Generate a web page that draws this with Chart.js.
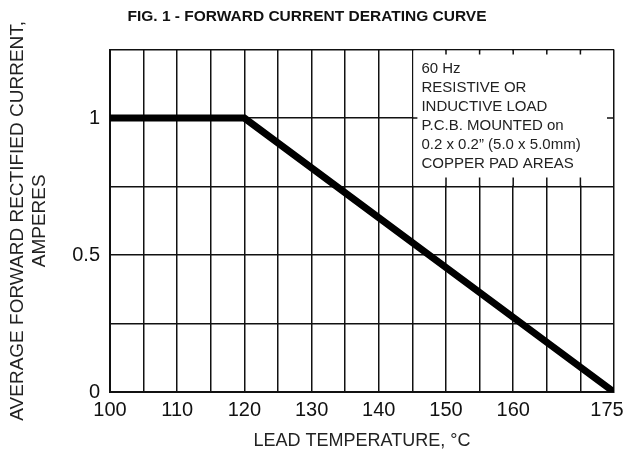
<!DOCTYPE html>
<html>
<head>
<meta charset="utf-8">
<script src="https://cdn.jsdelivr.net/npm/chart.js@4.4.0/dist/chart.umd.min.js"></script>
<style>
  html, body { margin: 0; padding: 0; background: #fff; }
  #wrap { width: 628px; height: 458px; }
</style>
</head>
<body>
<div id="wrap"><canvas id="derating"></canvas></div>
<script>
// Forward current derating curve — lead temperature vs. current

const temps    = [100, 120, 175];
const currents = [1, 1, 0];

const xTickLabels = [100, 110, 120, 130, 140, 150, 160, 175];
const yTickLabels = [0, 0.5, 1];

const noteLines = [
  "60 Hz",
  "RESISTIVE OR",
  "INDUCTIVE LOAD",
  "P.C.B. MOUNTED on",
  "0.2 x 0.2\u201D (5.0 x 5.0mm)",
  "COPPER PAD AREAS"
];

const FONT = "'Liberation Sans', Arial, Helvetica, sans-serif";
const INK  = "#111";

// White note box in the upper-right cells, with the little grid stubs left in it
const noteBox = {
  id: "noteBox",
  beforeDatasetsDraw(chart) {
    const { ctx, scales: { x, y } } = chart;
    const l = x.getPixelForValue(145), r = x.getPixelForValue(175);
    const t = y.getPixelForValue(1.25), b = y.getPixelForValue(0.75);

    ctx.save();
    ctx.fillStyle = "#fff";
    ctx.fillRect(l + 1, t + 1, r - l - 2, b - t - 2);

    ctx.strokeStyle = INK;
    ctx.lineWidth = 1.5;
    ctx.beginPath();
    for (let v = 150; v < 175; v += 5) {
      const px = x.getPixelForValue(v);
      ctx.moveTo(px, t); ctx.lineTo(px, t + 5);
      ctx.moveTo(px, b); ctx.lineTo(px, b - 9);
    }
    const py = y.getPixelForValue(1);
    ctx.moveTo(l, py); ctx.lineTo(l + 5, py);
    ctx.moveTo(r, py); ctx.lineTo(r - 7, py);
    ctx.stroke();

    ctx.fillStyle = "#222";
    ctx.font = "15px " + FONT;
    ctx.textBaseline = "middle";
    noteLines.forEach((s, i) => ctx.fillText(s, l + 9, t + 19 + i * 19));
    ctx.restore();
  }
};

new Chart(document.getElementById("derating"), {
  type: "line",
  data: {
    datasets: [{
      data: temps.map((t, i) => ({ x: t, y: currents[i] })),
      borderColor: "#000",
      borderWidth: 7,
      pointRadius: 0,
      tension: 0,
    }]
  },
  options: {
    responsive: true,
    maintainAspectRatio: false,
    animation: false,
    devicePixelRatio: 1,
    layout: { padding: { left: 0, right: 14, top: 0, bottom: 0 } },
    plugins: {
      legend: { display: false },
      tooltip: { enabled: false },
      title: {
        display: true,
        text: "FIG. 1 - FORWARD CURRENT DERATING CURVE",
        color: INK,
        font: { family: FONT, size: 15.5, weight: "bold" },
        padding: { top: 7, bottom: 24 }
      }
    },
    scales: {
      x: {
        type: "linear",
        min: 100,
        max: 175,
        // keep the plot edge where it is; the last label sits a bit inside
        afterFit: s => { s.height = 66; s.paddingRight = 0; },
        grid: { color: INK, lineWidth: 1.5, drawTicks: false },
        border: { color: INK, width: 2 },
        ticks: {
          stepSize: 5,
          autoSkip: false,
          maxRotation: 0,
          padding: 6,
          color: INK,
          font: { family: FONT, size: 20 },
          callback: v => {
            if (!xTickLabels.includes(v)) return "";
            return v === 175 ? "175\u2002\u2009" : String(v);
          }
        },
        title: {
          display: true,
          text: "LEAD TEMPERATURE, \u00B0C",
          color: "#222",
          font: { family: FONT, size: 18 },
          padding: { top: 0, bottom: 6 }
        }
      },
      y: {
        min: 0,
        max: 1.25,
        afterFit: s => { s.width = 110; },
        grid: { color: INK, lineWidth: 1.5, drawTicks: false },
        border: { color: INK, width: 2 },
        ticks: {
          stepSize: 0.25,
          autoSkip: false,
          padding: 10,
          color: INK,
          font: { family: FONT, size: 20 },
          callback: v => yTickLabels.includes(v) ? String(v) : ""
        },
        title: {
          display: true,
          text: ["AVERAGE FORWARD RECTIFIED CURRENT,", "AMPERES"],
          color: "#222",
          font: { family: FONT, size: 19 },
          padding: { top: 6, bottom: 0 }
        }
      }
    }
  },
  plugins: [noteBox]
});
</script>
</body>
</html>
